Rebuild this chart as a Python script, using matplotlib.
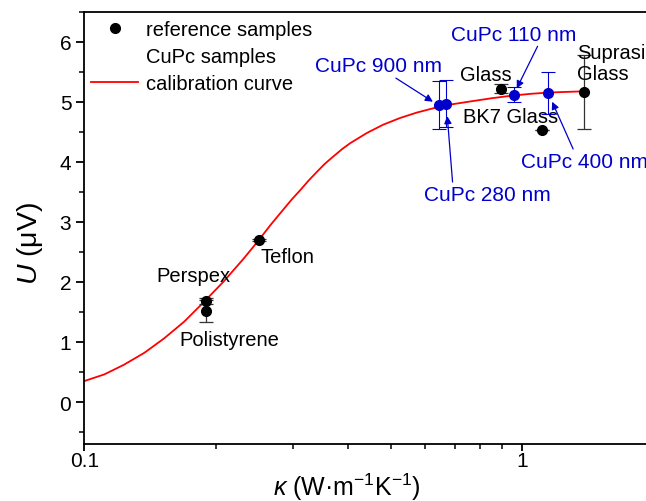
import numpy as np
import matplotlib
matplotlib.use('Agg')
import matplotlib.pyplot as plt
from matplotlib.lines import Line2D
from matplotlib.ticker import LogLocator, NullFormatter, FixedLocator, MultipleLocator

plt.rcParams['font.family'] = ['Liberation Sans', 'DejaVu Sans']
plt.rcParams['mathtext.fontset'] = 'custom'
plt.rcParams['mathtext.rm'] = 'Liberation Sans'
plt.rcParams['mathtext.it'] = 'Liberation Sans:italic'

# reference samples (kappa, U, error)
ref_names = ['Perspex', 'Polistyrene', 'Teflon', 'Glass', 'BK7 Glass', 'Suprasil Glass']
ref_kappa = [0.189, 0.189, 0.25, 0.895, 1.11, 1.38]
ref_u = [1.68, 1.52, 2.70, 5.22, 4.53, 5.16]
ref_err = [0.05, 0.18, 0.02, 0.08, 0.0, 0.62]

# CuPc samples
cupc_names = ['CuPc 900 nm', 'CuPc 280 nm', 'CuPc 110 nm', 'CuPc 400 nm']
cupc_kappa = [0.644, 0.67, 0.955, 1.145]
cupc_u = [4.94, 4.97, 5.12, 5.15]
cupc_err = [0.40, 0.39, 0.13, 0.35]

# calibration curve
cal_kappa = [0.1, 0.111, 0.123, 0.137, 0.152, 0.169, 0.187, 0.208, 0.231, 0.249,
             0.266, 0.284, 0.297, 0.311, 0.325, 0.339, 0.354, 0.370, 0.387, 0.404,
             0.441, 0.481, 0.525, 0.573, 0.631, 0.671, 0.75, 0.85, 0.95, 1.05,
             1.15, 1.25, 1.38]
cal_u = [0.35, 0.46, 0.62, 0.82, 1.06, 1.34, 1.66, 2.01, 2.39, 2.68,
         2.95, 3.20, 3.37, 3.53, 3.69, 3.83, 3.97, 4.09, 4.21, 4.31,
         4.48, 4.62, 4.73, 4.82, 4.90, 4.945, 5.00, 5.06, 5.105, 5.135,
         5.155, 5.165, 5.175]

blue = '#0000CC'
fs = 14.5

fig = plt.figure(figsize=(6.46, 5.02), dpi=100)
ax = fig.add_axes([0.1308, 0.1135, 0.882, 0.861])

ax.plot(cal_kappa, cal_u, color='red', lw=1.3, zorder=2)
ax.errorbar(ref_kappa, ref_u, yerr=ref_err, fmt='o', color='black', ms=7,
            ecolor='#333333', elinewidth=0.9, capsize=5, capthick=0.9, zorder=3)
ax.errorbar(cupc_kappa, cupc_u, yerr=cupc_err, fmt='o', color=blue, ms=7,
            ecolor=blue, elinewidth=0.8, capsize=5, capthick=0.8, zorder=4)

ax.set_xscale('log')
ax.set_xlim(0.1, 2)
ax.set_ylim(-0.7, 6.5)
ax.xaxis.set_major_locator(FixedLocator([0.1, 1]))
ax.set_xticklabels(['0.1', '1'])
ax.xaxis.set_minor_locator(LogLocator(base=10, subs=np.arange(2, 10)))
ax.xaxis.set_minor_formatter(NullFormatter())
ax.yaxis.set_major_locator(MultipleLocator(1))
ax.yaxis.set_minor_locator(MultipleLocator(0.5))

for s in ['left', 'bottom', 'top']:
    ax.spines[s].set_linewidth(1.3)
ax.spines['right'].set_visible(False)
ax.tick_params(which='major', length=6, width=1.3, labelsize=15, direction='out')
ax.tick_params(which='minor', length=3.5, width=1.1, direction='out')
ax.tick_params(axis='x', which='major', length=5, pad=0)
ax.tick_params(top=False, right=False, which='both')

ax.set_xlabel(r'$\kappa$ (W·m$^{-1}$K$^{-1}$)', fontsize=18)
ax.xaxis.set_label_coords(0.4606, -0.0625)
ax.set_ylabel(r'$U$ (μV)', fontsize=20.5)
ax.yaxis.set_label_coords(-0.069, 0.467)

# sample labels
ax.text(0.177, 2.10, 'Perspex', fontsize=fs, ha='center', va='center')
ax.text(0.2138, 1.045, 'Polistyrene', fontsize=fs, ha='center', va='center')
ax.text(0.290, 2.43, 'Teflon', fontsize=fs, ha='center', va='center')
ax.text(0.825, 5.46, 'Glass', fontsize=fs, ha='center', va='center')
ax.text(0.941, 4.75, 'BK7 Glass', fontsize=fs, ha='center', va='center')
ax.text(1.33, 5.65, 'Suprasil\nGlass', fontsize=fs, ha='left', va='center',
        linespacing=1.15)

arrow = dict(arrowstyle='-|>', color=blue, lw=0.9, mutation_scale=11,
             shrinkA=0, shrinkB=5)
ax.annotate('CuPc 900 nm', xy=(cupc_kappa[0], cupc_u[0]), xytext=(0.470, 5.60),
            color=blue, fontsize=15, ha='center', va='center',
            arrowprops=dict(arrow, relpos=(0.6, 0.0)))
ax.annotate('CuPc 280 nm', xy=(cupc_kappa[1], cupc_u[1]), xytext=(0.830, 3.46),
            color=blue, fontsize=15, ha='center', va='center',
            arrowprops=dict(arrow, relpos=(0.23, 1.0), shrinkB=9))
ax.annotate('CuPc 110 nm', xy=(cupc_kappa[2], cupc_u[2]), xytext=(0.956, 6.13),
            color=blue, fontsize=15, ha='center', va='center',
            arrowprops=dict(arrow, relpos=(0.7, 0.0)))
ax.annotate('CuPc 400 nm', xy=(cupc_kappa[3], cupc_u[3]), xytext=(1.386, 4.01),
            color=blue, fontsize=15, ha='center', va='center',
            arrowprops=dict(arrow, relpos=(0.42, 1.0), shrinkB=7))

handles = [Line2D([], [], ls='none', marker='o', color='black', ms=7),
           Line2D([], [], ls='none'),
           Line2D([], [], color='red', lw=1.3)]
ax.legend(handles, ['reference samples', 'CuPc samples', 'calibration curve'],
          loc='upper left', bbox_to_anchor=(-0.009, 1.01), frameon=False,
          fontsize=14.5, handlelength=2.3, handletextpad=0.4, labelspacing=0.42,
          borderaxespad=0.2)

fig.savefig('out.png', dpi=100)
